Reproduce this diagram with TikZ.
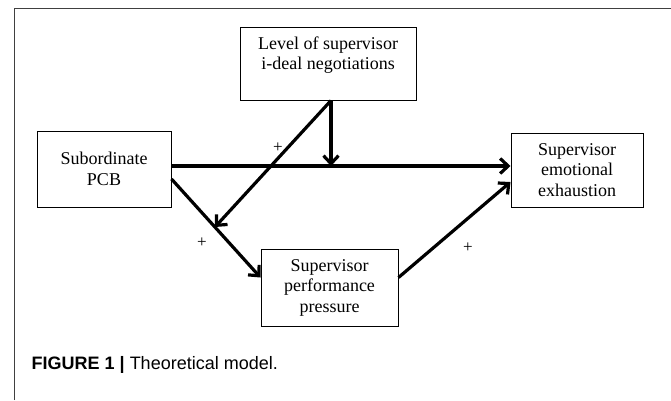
\documentclass[tikz,border=0pt]{standalone}
\usepackage{fontspec}
\setmainfont{Liberation Serif}
\newfontfamily\capfont{Liberation Sans}
\usetikzlibrary{arrows.meta,calc}

\begin{document}
\begin{tikzpicture}[x=1pt, y=-1pt,
    box/.style={draw, line width=1pt, align=center, inner sep=0pt,
      font=\fontsize{18}{20.5}\selectfont},
    path/.style={line width=3.2pt, -{Straight Barb[length=8pt,width=15pt]}},
    sign/.style={font=\fontsize{17}{17}\selectfont, inner sep=0pt}]
  \useasboundingbox (0,0) rectangle (671,400);
  \draw[line width=1.2pt, black!75] (14.3,400) -- (14.3,8.7) -- (671,8.7);
  % boxes
  \node[box, minimum width=176pt, minimum height=73pt] (lev) at (328,63.5)
    {Level of supervisor\\i-deal negotiations\\\mbox{}};
  \node[box, minimum width=134pt, minimum height=76pt] (pcb) at (104,169)
    {Subordinate\\PCB};
  \node[box, minimum width=132pt, minimum height=74pt] (exh) at (577,170)
    {Supervisor\\emotional\\exhaustion};
  \node[box, minimum width=137pt, minimum height=77pt] (prs) at (329.5,287.5)
    {Supervisor\\performance\\pressure};
  \coordinate (hit) at (331,166);
  \coordinate (mid) at (215,227);
  % paths
  \path[path]
    (pcb.east |- hit) edge (exh.west |- hit)
    ([xshift=3pt]lev.south) edge (hit) edge (mid)
    ([yshift=-10pt]pcb.east) edge ([yshift=10pt]prs.west)
    ([yshift=10pt]prs.east) edge ([yshift=-12pt]exh.west);
  \node[sign] (s1) at (278,148) {+};
  \node[sign] (s2) at (202,243) {+};
  \node[sign] (s3) at (468,248) {+};
  % caption
  \node[anchor=base west, inner sep=0pt, font=\capfont\fontsize{18}{20}\selectfont] (cap)
    at (31.5,369) {\textbf{FIGURE 1 |} Theoretical model.};
\end{tikzpicture}
\end{document}
